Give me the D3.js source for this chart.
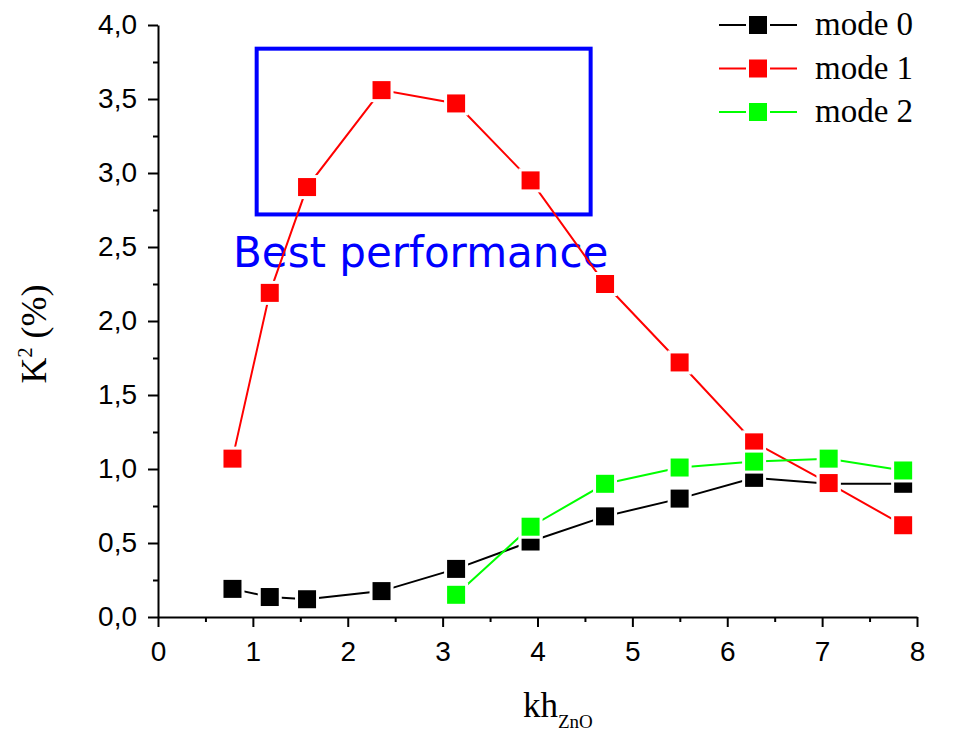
<!DOCTYPE html>
<html>
<head>
<meta charset="utf-8">
<script src="https://cdn.jsdelivr.net/npm/d3@7"></script>
<style>
  body { margin: 0; background: #fff; }
  .tick text { font-family: "Liberation Sans", Arial, sans-serif; font-size: 28px; fill: #000; }
  .domain, .tick line { stroke: #000; stroke-width: 2px; }
</style>
</head>
<body>
<div id="chart"></div>
<script>
// kh values (multiples of pi/4)
var khAll = [0.785, 1.178, 1.571, 2.356, 3.142, 3.927, 4.712, 5.498, 6.283, 7.069, 7.854];
var khMode2 = [3.142, 3.927, 4.712, 5.498, 6.283, 7.069, 7.854];

var mode0 = [0.19, 0.135, 0.12, 0.175, 0.325, 0.51, 0.68, 0.80, 0.94, 0.90, 0.90];
var mode1 = [1.07, 2.19, 2.905, 3.56, 3.47, 2.95, 2.25, 1.72, 1.18, 0.905, 0.62];
var mode2 = [0.15, 0.61, 0.90, 1.01, 1.05, 1.07, 0.99];

var seriesNames = ["mode 0", "mode 1", "mode 2"];
var seriesColors = ["#000000", "#ff0000", "#00ff00"];

var xTicks = [0, 1, 2, 3, 4, 5, 6, 7, 8];
var yTicks = [0, 0.5, 1, 1.5, 2, 2.5, 3, 3.5, 4];

// highlight box in data units [x0, x1, y0, y1]
var boxRange = [1.04, 4.56, 2.72, 3.84];

var width = 956, height = 733;
var margin = {top: 25, right: 40, bottom: 116, left: 158};

var svg = d3.select("#chart").append("svg")
    .attr("width", width)
    .attr("height", height);

var x = d3.scaleLinear().domain([0, 8]).range([margin.left, 917]);
var y = d3.scaleLinear().domain([0, 4]).range([617, margin.top]);

var fmtY = d3.formatLocale({decimal: ",", thousands: ".", grouping: [3], currency: ["", ""]}).format(".1f");

// minor ticks
svg.append("g")
    .attr("transform", "translate(0," + y(0) + ")")
    .call(d3.axisBottom(x).tickValues(d3.range(0.5, 8, 1)).tickSize(5).tickFormat(""))
    .call(function(g){ g.select(".domain").remove(); });
svg.append("g")
    .attr("transform", "translate(" + x(0) + ",0)")
    .call(d3.axisLeft(y).tickValues(d3.range(0.25, 4, 0.5)).tickSize(5).tickFormat(""))
    .call(function(g){ g.select(".domain").remove(); });

// major axes
svg.append("g")
    .attr("transform", "translate(0," + y(0) + ")")
    .call(d3.axisBottom(x).tickValues(xTicks).tickSize(10).tickSizeOuter(0).tickPadding(14).tickFormat(d3.format("d")));
svg.append("g")
    .attr("transform", "translate(" + x(0) + ",0)")
    .call(d3.axisLeft(y).tickValues(yTicks).tickSize(10).tickSizeOuter(0).tickPadding(11).tickFormat(fmtY));

// highlight box + label
svg.append("rect")
    .attr("x", x(boxRange[0]))
    .attr("y", y(boxRange[3]))
    .attr("width", x(boxRange[1]) - x(boxRange[0]))
    .attr("height", y(boxRange[2]) - y(boxRange[3]))
    .attr("fill", "none")
    .attr("stroke", "#0000ff")
    .attr("stroke-width", 4);

svg.append("text")
    .attr("x", 233)
    .attr("y", 267)
    .attr("font-family", "'DejaVu Sans', Verdana, sans-serif")
    .attr("font-size", 42)
    .attr("fill", "#0000ff")
    .text("Best performance");

var series = [
  {xs: khAll, ys: mode0},
  {xs: khAll, ys: mode1},
  {xs: khMode2, ys: mode2}
];
var markSize = 18;

var line = d3.line()
    .x(function(d){ return x(d[0]); })
    .y(function(d){ return y(d[1]); });

series.forEach(function(s, i){
  var pts = s.xs.map(function(v, j){ return [v, s.ys[j]]; });
  svg.append("path")
      .datum(pts)
      .attr("d", line)
      .attr("fill", "none")
      .attr("stroke", seriesColors[i])
      .attr("stroke-width", 2);
});

series.forEach(function(s, i){
  var pts = s.xs.map(function(v, j){ return [v, s.ys[j]]; });
  svg.append("g").selectAll("rect")
      .data(pts)
    .enter().append("rect")
      .attr("x", function(d){ return x(d[0]) - markSize / 2; })
      .attr("y", function(d){ return y(d[1]) - markSize / 2; })
      .attr("width", markSize)
      .attr("height", markSize)
      .attr("fill", seriesColors[i])
      .attr("stroke", "#fff")
      .attr("stroke-width", 6)
      .attr("paint-order", "stroke");
});

// legend
var legend = svg.append("g");
seriesNames.forEach(function(name, i){
  var cy = 25 + i * 43.5;
  legend.append("line")
      .attr("x1", 719).attr("x2", 797)
      .attr("y1", cy).attr("y2", cy)
      .attr("stroke", seriesColors[i])
      .attr("stroke-width", 2);
  legend.append("rect")
      .attr("x", 749).attr("y", cy - 9)
      .attr("width", 18).attr("height", 18)
      .attr("fill", seriesColors[i])
      .attr("stroke", "#fff")
      .attr("stroke-width", 6)
      .attr("paint-order", "stroke");
  legend.append("text")
      .attr("x", 815)
      .attr("y", cy + 10)
      .attr("font-family", "'Liberation Serif', 'Times New Roman', serif")
      .attr("font-size", 33)
      .text(name);
});

// axis titles
var xt = svg.append("text")
    .attr("x", 523)
    .attr("y", 717)
    .attr("font-family", "'Liberation Serif', 'Times New Roman', serif")
    .attr("font-size", 35);
xt.append("tspan").text("kh");
xt.append("tspan").attr("dy", 11).attr("font-size", 19).text("ZnO");

var yt = svg.append("text")
    .attr("transform", "translate(46,334) rotate(-90)")
    .attr("text-anchor", "middle")
    .attr("font-family", "'Liberation Serif', 'Times New Roman', serif")
    .attr("font-size", 36);
yt.append("tspan").text("K");
yt.append("tspan").attr("dy", -14).attr("font-size", 20).text("2");
yt.append("tspan").attr("dy", 14).text(" (%)");
</script>
</body>
</html>
